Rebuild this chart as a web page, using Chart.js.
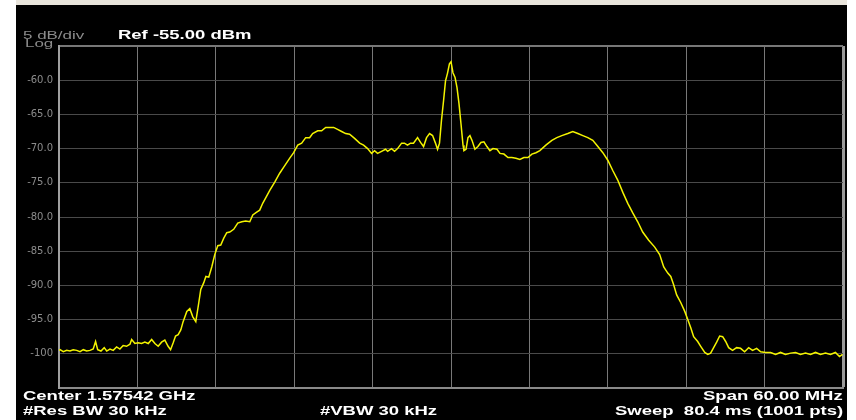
<!DOCTYPE html>
<html>
<head>
<meta charset="utf-8">
<script src="https://cdn.jsdelivr.net/npm/chart.js@4.4.0/dist/chart.umd.min.js"></script>
<style>
  html, body { margin: 0; padding: 0; background: #fff; }
  #wrap { position: relative; width: 856px; height: 420px; overflow: hidden; }
  #panel { position: absolute; left: 16px; top: 5px; width: 831px; height: 415px; background: #000; }
  #strip { position: absolute; left: 16px; top: 0; width: 831px; height: 5px; background: #e9e5dc; }
  canvas { position: absolute; left: 0; top: 0; }
  .lbl { position: absolute; white-space: nowrap; font-family: "Liberation Sans", Arial, sans-serif; }
  .hdr { font-size: 12px; line-height: 12px; font-weight: bold; color: #fff; }
  .dim { font-size: 11px; line-height: 11px; color: #8c8c8c; }
  .l { transform: scaleX(1.54); transform-origin: left top; }
  .r { transform: scaleX(1.54); transform-origin: right top; }
</style>
</head>
<body>
<div id="wrap">
  <div id="strip"></div>
  <div id="panel"></div>
  <canvas id="chart" width="856" height="420"></canvas>

  <div class="lbl dim l" style="left:23px; top:30px;">5 dB/div</div>
  <div class="lbl dim l" style="left:25px; top:38px;">Log</div>
  <div class="lbl hdr l" style="left:118px; top:29px;">Ref -55.00 dBm</div>

  <div class="lbl hdr l" style="left:23px; top:390px;">Center 1.57542 GHz</div>
  <div class="lbl hdr l" style="left:23px; top:405px;">#Res BW 30 kHz</div>
  <div class="lbl hdr l" style="left:320px; top:405px;">#VBW 30 kHz</div>
  <div class="lbl hdr r" style="right:13px; top:390px;">Span 60.00 MHz</div>
  <div class="lbl hdr r" style="right:13px; top:405px;">Sweep&nbsp; 80.4 ms (1001 pts)</div>
</div>

<script>
// span -30..+30 MHz around centre, level in dBm
const freqMHz = [
  -30.00,
  -29.92, -29.67, -29.41, -29.16, -28.91, -28.65, -28.39, -28.14, -27.88, -27.63,
  -27.38, -27.20, -27.04, -26.79, -26.54, -26.35, -26.10, -25.85, -25.59, -25.34,
  -25.09, -24.83, -24.57, -24.44, -24.19, -23.94, -23.68, -23.43, -23.17, -22.91,
  -22.66, -22.41, -22.15, -21.90, -21.65, -21.46, -21.26, -21.08, -20.88, -20.68,
  -20.50, -20.22, -19.99, -19.76, -19.53, -19.30, -19.15, -18.92, -18.76, -18.54,
  -18.31, -18.08, -17.85, -17.62, -17.39, -17.16, -16.93, -16.63, -16.32, -16.01,
  -15.71, -15.40, -15.17, -14.87, -14.64, -14.41, -14.18, -13.87, -13.49, -13.11,
  -12.80, -12.34, -12.04, -11.73, -11.43, -11.12, -10.82, -10.59, -10.20, -9.90,
  -9.59, -9.29, -8.98, -8.68, -8.37, -8.06, -7.76, -7.38, -6.99, -6.69,
  -6.38, -6.08, -5.85, -5.62, -5.31, -5.01, -4.85, -4.55, -4.32, -4.09,
  -3.78, -3.56, -3.33, -3.10, -2.87, -2.56, -2.33, -2.10, -1.87, -1.64,
  -1.41, -1.19, -1.03, -0.88, -0.73, -0.57, -0.42, -0.27, -0.12, 0.00,
  0.15, 0.31, 0.46, 0.61, 0.76, 0.92, 0.99, 1.15, 1.30, 1.45,
  1.61, 1.83, 2.06, 2.29, 2.52, 2.75, 2.98, 3.21, 3.52, 3.75,
  4.05, 4.36, 4.66, 4.97, 5.27, 5.58, 5.89, 6.19, 6.50, 6.80,
  7.26, 7.72, 8.10, 8.48, 8.94, 9.32, 9.71, 10.09, 10.47, 10.85,
  11.24, 11.62, 12.00, 12.38, 12.76, 13.15, 13.53, 13.91, 14.29, 14.67,
  15.13, 15.59, 15.97, 16.28, 16.59, 16.82, 17.04, 17.27, 17.58, 17.89,
  18.12, 18.35, 18.57, 18.88, 19.11, 19.42, 19.65, 19.87, 20.10, 20.33,
  20.56, 20.79, 21.02, 21.25, 21.55, 21.86, 22.16, 22.47, 22.78, 23.08,
  23.39, 23.70, 24.08, 24.46, 24.84, 25.22, 25.60, 25.99, 26.37, 26.75,
  27.13, 27.51, 27.90, 28.28, 28.66, 29.04, 29.42, 29.73, 29.96
];

const levelDbm = [
  -99.5,
  -99.4, -99.7, -99.5, -99.6, -99.4, -99.5, -99.7, -99.4, -99.6, -99.5,
  -99.3, -98.2, -99.4, -99.6, -99.1, -99.6, -99.3, -99.5, -99.0, -99.3,
  -98.8, -98.9, -98.6, -97.9, -98.5, -98.4, -98.5, -98.3, -98.5, -97.9,
  -98.5, -98.9, -98.3, -98.0, -98.9, -99.4, -98.4, -97.4, -97.2, -96.5,
  -95.3, -93.8, -93.4, -94.6, -95.3, -92.5, -90.6, -89.6, -88.7, -88.8,
  -87.3, -85.5, -84.2, -84.1, -83.1, -82.3, -82.2, -81.8, -80.9, -80.7,
  -80.6, -80.7, -79.7, -79.3, -79.0, -78.0, -77.2, -76.1, -74.9, -73.6,
  -72.7, -71.4, -70.6, -69.5, -69.2, -68.4, -68.4, -67.8, -67.4, -67.4,
  -66.9, -66.9, -66.9, -67.2, -67.5, -67.8, -67.9, -68.5, -69.2, -69.5,
  -70.0, -70.7, -70.3, -70.7, -70.4, -70.1, -70.4, -70.0, -70.4, -70.0,
  -69.2, -69.2, -69.5, -69.2, -69.2, -68.4, -69.1, -69.7, -68.4, -67.8,
  -68.1, -69.2, -70.1, -69.2, -65.9, -63.0, -60.1, -59.0, -57.6, -57.3,
  -58.9, -59.6, -61.1, -63.4, -66.3, -69.5, -70.3, -70.1, -68.4, -68.1,
  -68.8, -70.1, -69.7, -69.1, -69.0, -69.7, -70.3, -70.0, -70.1, -70.7,
  -70.8, -71.3, -71.3, -71.4, -71.6, -71.3, -71.3, -70.8, -70.6, -70.3,
  -69.5, -68.8, -68.4, -68.1, -67.8, -67.5, -67.8, -68.1, -68.4, -68.8,
  -69.7, -70.6, -71.7, -73.2, -74.6, -76.4, -78.0, -79.4, -80.7, -82.2,
  -83.4, -84.4, -85.5, -87.3, -88.2, -88.7, -89.9, -91.4, -92.5, -93.8,
  -95.0, -96.2, -97.5, -98.2, -98.9, -99.8, -100.1, -99.9, -99.1, -98.3,
  -97.4, -97.5, -98.2, -99.1, -99.5, -99.1, -99.2, -99.7, -99.1, -99.5,
  -99.2, -99.7, -99.8, -99.8, -100.1, -99.8, -100.1, -99.9, -99.8, -100.1,
  -99.9, -100.1, -99.8, -100.1, -99.9, -100.1, -99.8, -100.4, -100.1
];

const refLevel = -55;
const dbPerDiv = 5;
const bottomLevel = -105;
const spanMHz = 60;

const points = freqMHz.map((f, i) => ({ x: f, y: levelDbm[i] }));

new Chart(document.getElementById('chart'), {
  type: 'line',
  data: {
    datasets: [{
      data: points,
      borderColor: '#f4f400',
      borderWidth: 1.5,
      pointRadius: 0,
      tension: 0,
      fill: false
    }]
  },
  options: {
    responsive: false,
    animation: false,
    devicePixelRatio: 1,
    layout: { padding: { top: 46, right: 13, bottom: 32, left: 0 } },
    plugins: { legend: { display: false }, tooltip: { enabled: false } },
    scales: {
      x: {
        type: 'linear',
        min: -spanMHz / 2,
        max: spanMHz / 2,
        ticks: { display: false, stepSize: spanMHz / 10 },
        grid: {
          drawTicks: false,
          color: ctx => ctx.tick && ctx.tick.value === spanMHz / 2 ? '#9a9a9a' : '#787878',
          lineWidth: ctx => ctx.tick && ctx.tick.value === spanMHz / 2 ? 3 : 1
        },
        border: { color: '#8a8a8a', width: 2 },
        afterFit: s => { s.height = 0; }
      },
      y: {
        min: bottomLevel,
        max: refLevel,
        ticks: {
          stepSize: dbPerDiv,
          padding: 6,
          color: '#8c8c8c',
          font: { family: 'DejaVu Sans', size: 10 },
          callback: v => (v === refLevel || v === bottomLevel) ? '' : (v === -100 ? '-100' : v.toFixed(1))
        },
        grid: {
          drawTicks: false,
          color: ctx => ctx.tick && ctx.tick.value === refLevel ? '#777777' : '#4a4a4a',
          lineWidth: ctx => ctx.tick && ctx.tick.value === refLevel ? 2 : 1
        },
        border: { color: '#a0a0a0', width: 2 },
        afterFit: s => { s.width = 59; }
      }
    }
  }
});
</script>
</body>
</html>
